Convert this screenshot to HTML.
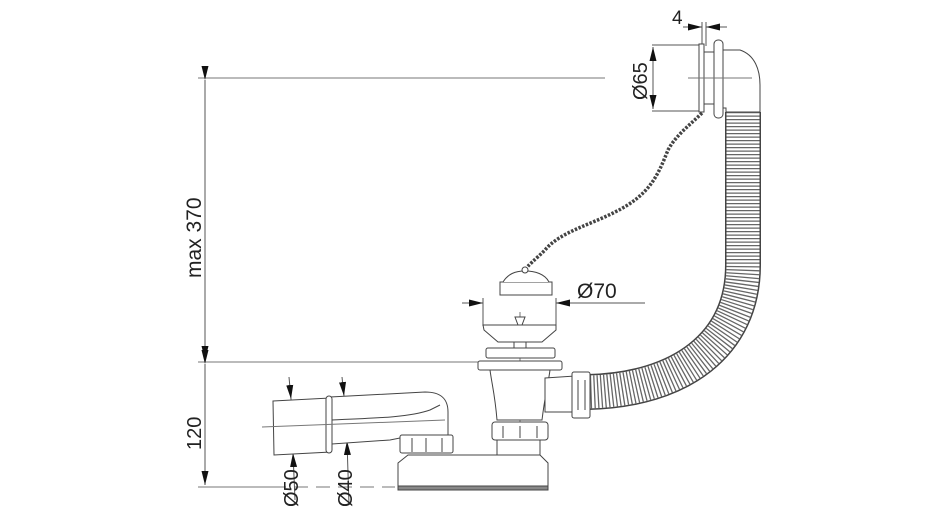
<!DOCTYPE html>
<html><head><meta charset="utf-8"><style>
html,body{margin:0;padding:0;background:#fff;}
svg{display:block;font-family:"Liberation Sans",sans-serif;}
</style></head><body>
<svg width="944" height="518" viewBox="0 0 944 518">
<defs>
<marker id="a" markerWidth="14" markerHeight="8" refX="14" refY="4" orient="auto" markerUnits="userSpaceOnUse"><path d="M0,0.5 L14,4 L0,7.5z" fill="#111"/></marker>
</defs>
<g stroke="#777" stroke-width="1" fill="none">
<line x1="198" y1="78" x2="605" y2="78"/>
<line x1="198" y1="362" x2="490" y2="362"/>
<line x1="198" y1="487" x2="272" y2="487"/>
<line x1="272" y1="487" x2="395" y2="487" stroke-dasharray="14 8"/>
</g>
<g stroke="#555" stroke-width="1" fill="none">
<line x1="205" y1="80" x2="205" y2="360" marker-start="url(#a)" marker-end="url(#a)"/>
<line x1="205" y1="364" x2="205" y2="485" marker-start="url(#a)" marker-end="url(#a)"/>
<line x1="462" y1="303" x2="483" y2="303" marker-end="url(#a)"/>
<line x1="645" y1="303" x2="556" y2="303" marker-end="url(#a)"/>
<line x1="483" y1="298" x2="483" y2="326"/><line x1="556" y1="298" x2="556" y2="326"/>
<line x1="683" y1="27" x2="702" y2="27" marker-end="url(#a)"/>
<line x1="727" y1="27" x2="706" y2="27" marker-end="url(#a)"/>
<line x1="702" y1="22" x2="702" y2="46"/><line x1="706" y1="22" x2="706" y2="46"/>
<line x1="652" y1="45" x2="700" y2="45"/><line x1="652" y1="111" x2="700" y2="111"/>
<line x1="653" y1="65" x2="653" y2="47" marker-end="url(#a)"/>
<line x1="653" y1="92" x2="653" y2="109" marker-end="url(#a)"/>
<line x1="653" y1="65" x2="653" y2="92"/>
<line x1="289" y1="377" x2="291" y2="399" marker-end="url(#a)"/>
<line x1="295" y1="500" x2="293" y2="453" marker-end="url(#a)"/>
<line x1="291" y1="399" x2="293" y2="453"/>
<line x1="342" y1="377" x2="344" y2="396" marker-end="url(#a)"/>
<line x1="349" y1="505" x2="347" y2="441" marker-end="url(#a)"/>
<line x1="344" y1="396" x2="347" y2="441"/>
</g>
<g fill="#222" font-size="20">
<text x="577" y="298" font-size="21">Ø70</text>
<text x="672" y="24" font-size="19">4</text>
<text transform="translate(647,100) rotate(-90)">Ø65</text>
<text transform="translate(201,278) rotate(-90)" font-size="21">max 370</text>
<text transform="translate(201,450) rotate(-90)">120</text>
<text transform="translate(298,507) rotate(-90)">Ø50</text>
<text transform="translate(352,507) rotate(-90)">Ø40</text>
</g>
<path d="M743,112 L743,265 C743,345 680,390 588,392" fill="none" stroke="#444" stroke-width="36"/>
<path d="M743,112 L743,265 C743,345 680,390 588,392" fill="none" stroke="#fff" stroke-width="33"/>
<path d="M743,112 L743,265 C743,345 680,390 588,392" fill="none" stroke="#666" stroke-width="33" stroke-dasharray="1.3 2.2"/>
<path d="M702,113 C690,125 676,135 668,150 C658,175 650,195 615,212 C590,225 560,232 545,250 C535,260 528,265 525,270" fill="none" stroke="#444" stroke-width="3.5" stroke-dasharray="2.5 1.5"/>
<g stroke="#444" stroke-width="1" fill="#fff">
<rect x="699" y="44" width="5" height="68"/>
<rect x="704" y="52" width="11" height="52"/>
<rect x="714" y="40" width="9" height="78" rx="4"/>
<path d="M723,50 L740,50 C755,55 760,70 760,85 L760,112 L726,112 L726,108 L723,108 Z"/>
<line x1="688" y1="78" x2="752" y2="78" stroke="#777"/>
<path d="M500,282 L552,282 L552,295 L500,295 Z"/>
<path d="M503,282 C508,274 515,271 525,271 C535,271 545,274 549,282"/>
<circle cx="525" cy="270" r="3"/>
<line x1="520" y1="312" x2="520" y2="445" stroke="#777"/>
<path d="M483,325 L556,325 L556,330 L542,342 L498,342 L484,330 Z"/>
<path d="M515,317 L525,317 L522,325 L518,325 Z"/>
<rect x="514" y="342" width="12" height="8"/>
<path d="M490,370 L550,370 C548,385 545,395 542,420 L497,420 C495,395 492,385 490,370 Z"/>
<path d="M545,378 L575,376 L575,412 L545,412 Z"/>
<rect x="572" y="372" width="18" height="46" rx="2"/>
<line x1="578" y1="380" x2="578" y2="410"/><line x1="585" y1="380" x2="585" y2="410"/>
<rect x="486" y="348" width="69" height="10" rx="2"/>
<rect x="478" y="361" width="84" height="9" rx="2"/>
<rect x="492" y="422" width="56" height="18" rx="3"/>
<line x1="503" y1="426" x2="503" y2="438"/><line x1="520" y1="426" x2="520" y2="438"/><line x1="537" y1="426" x2="537" y2="438"/>
<rect x="497" y="440" width="43" height="20"/>
<path d="M398,463 L408,455 L540,455 L548,463 L548,488 L398,488 Z"/>
<rect x="398" y="486" width="150" height="4" fill="#888"/>
<path d="M330,397 L425,392 C440,392 448,398 448,412 L448,437 L405,437 L390,440 L332,444 Z"/>
<path d="M332,420 C380,418 410,417 430,410 L440,405"/>
<rect x="400" y="435" width="53" height="18" rx="2"/>
<line x1="412" y1="438" x2="412" y2="452"/><line x1="426" y1="438" x2="426" y2="452"/><line x1="442" y1="438" x2="442" y2="452"/>
<path d="M273,401 L330,398 L331,452 L274,455 Z"/>
<rect x="326" y="396" width="6" height="57" rx="3"/>
<line x1="262" y1="427" x2="445" y2="420" stroke="#777"/>
</g>
</svg>
</body></html>
